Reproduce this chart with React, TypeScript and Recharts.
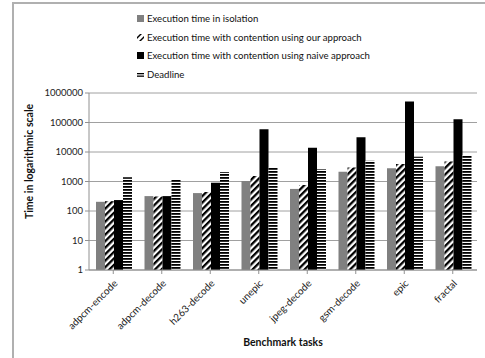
import React from "react";
import { BarChart, Bar, XAxis, YAxis, CartesianGrid } from "recharts";

// benchmark names on the x axis
const tasks = [
  "adpcm-encode",
  "adpcm-decode",
  "h263-decode",
  "unepic",
  "jpeg-decode",
  "gsm-decode",
  "epic",
  "fractal",
];

// values
const isolation = [205, 320, 405, 1040, 560, 2150, 2800, 3300];
const ourApproach = [215, 310, 440, 1550, 760, 3000, 3900, 4800];
const naiveApproach = [235, 320, 910, 59000, 14000, 31500, 520000, 128000];
const deadline = [1380, 1180, 2100, 2950, 2600, 5050, 6900, 7800];

const yTicks = [1, 10, 100, 1000, 10000, 100000, 1000000];

const seriesNames = [
  "Execution time in isolation",
  "Execution time with contention using our approach",
  "Execution time with contention using naive approach",
  "Deadline",
];

const data = tasks.map((name, i) => ({
  name,
  isolation: isolation[i],
  ours: ourApproach[i],
  naive: naiveApproach[i],
  deadline: deadline[i],
}));

const FONT = "Lato, 'Open Sans', sans-serif";

const XTick = (props: any) => {
  const { x, y, payload } = props;
  const tx = x + 5;
  const ty = y + 8;
  return (
    <text
      x={tx}
      y={ty}
      transform={`rotate(-45 ${tx} ${ty})`}
      textAnchor="end"
      fontSize={10}
      fontFamily={FONT}
      fill="#222"
    >
      {payload.value}
    </text>
  );
};

const Swatch = ({ kind }: { kind: number }) => (
  <svg width={7} height={7} style={{ marginRight: 3, verticalAlign: "middle" }}>
    {kind === 0 && <rect width={7} height={7} fill="#808080" />}
    {kind === 1 && (
      <g>
        <rect width={7} height={7} fill="#fff" />
        <polygon points="0,3 3,0 5,0 0,5" fill="#000" />
        <polygon points="2,7 7,2 7,4 4,7" fill="#000" />
      </g>
    )}
    {kind === 2 && <rect width={7} height={7} fill="#000" />}
    {kind === 3 && (
      <g>
        <rect y={2} width={7} height={1.3} fill="#000" />
        <rect y={4.5} width={7} height={1.3} fill="#000" />
      </g>
    )}
  </svg>
);

const App = () => {
  return (
    <div
      style={{
        position: "absolute",
        left: 0,
        top: 0,
        width: 485,
        height: 358,
        background: "#fff",
        overflow: "hidden",
        fontFamily: FONT,
      }}
    >
      <div
        style={{
          position: "absolute",
          left: 12,
          top: 2,
          width: 480,
          height: 370,
          borderTop: "2px solid #b0b0b0",
          borderLeft: "2px solid #b0b0b0",
        }}
      />
      <div style={{ position: "absolute", left: 137, top: 11 }}>
        {seriesNames.map((s, i) => (
          <div
            key={s}
            style={{ height: 18.5, fontSize: 9.6, color: "#111", whiteSpace: "nowrap", lineHeight: "14px" }}
          >
            <Swatch kind={i} />
            <span style={{ verticalAlign: "middle" }}>{s}</span>
          </div>
        ))}
      </div>
      <BarChart
        width={485}
        height={358}
        data={data}
        margin={{ top: 93, right: 8, left: 29, bottom: 18 }}
        barCategoryGap={7}
        barGap={0}
        style={{ position: "absolute", left: 0, top: 0 }}
      >
        <defs>
          <pattern
            id="diag"
            patternUnits="userSpaceOnUse"
            width={4.6}
            height={4.6}
            patternTransform="rotate(45)"
          >
            <rect width={4.6} height={4.6} fill="#fff" />
            <rect width={2.3} height={4.6} fill="#000" />
          </pattern>
          <pattern id="horiz" patternUnits="userSpaceOnUse" width={4} height={3}>
            <rect width={4} height={3} fill="#fff" />
            <rect width={4} height={1.8} fill="#000" />
          </pattern>
        </defs>
        <CartesianGrid vertical={false} stroke="#a0a0a0" strokeWidth={1} />
        <XAxis
          dataKey="name"
          interval={0}
          height={70}
          tick={<XTick />}
          tickSize={4}
          axisLine={{ stroke: "#909090" }}
          tickLine={{ stroke: "#909090" }}
          label={{
            value: "Benchmark tasks",
            position: "insideBottom",
            offset: -6,
            fontSize: 10.5,
            fontWeight: "bold",
            fill: "#111",
            fontFamily: FONT,
          }}
        />
        <YAxis
          scale="log"
          domain={[1, 1000000]}
          ticks={yTicks}
          allowDataOverflow
          width={60}
          tickSize={4}
          tick={{ fontSize: 9.5, fill: "#222", fontFamily: FONT }}
          axisLine={{ stroke: "#909090" }}
          tickLine={{ stroke: "#909090" }}
          label={{
            value: "Time in  logarithmic scale",
            angle: -90,
            position: "insideLeft",
            offset: 0,
            dy: -20,
            dx: 0,
            fontSize: 10.5,
            fontWeight: "bold",
            fill: "#111",
            fontFamily: FONT,
            style: { textAnchor: "middle" },
          }}
        />
        <Bar dataKey="isolation" fill="#808080" isAnimationActive={false} />
        <Bar dataKey="ours" fill="url(#diag)" isAnimationActive={false} />
        <Bar dataKey="naive" fill="#000" isAnimationActive={false} />
        <Bar dataKey="deadline" fill="url(#horiz)" isAnimationActive={false} />
      </BarChart>
    </div>
  );
};

export default App;
